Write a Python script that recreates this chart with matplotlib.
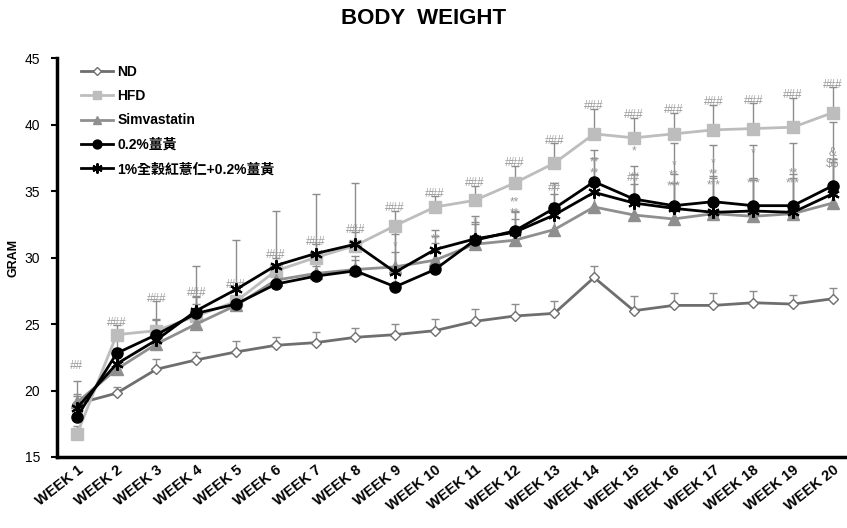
import numpy as np
import matplotlib
matplotlib.use("Agg")
import matplotlib.pyplot as plt

plt.rcParams['font.family'] = ['Liberation Sans', 'Noto Sans CJK TC', 'DejaVu Sans']

semanas = ["WEEK %d" % i for i in range(1, 21)]

grupos = ["ND", "HFD", "Simvastatin", "0.2%薑黃", "1%全穀紅薏仁+0.2%薑黃"]

nd = [19.0, 19.8, 21.6, 22.3, 22.9, 23.4, 23.6, 24.0, 24.2, 24.5,
      25.2, 25.6, 25.8, 28.5, 26.0, 26.4, 26.4, 26.6, 26.5, 26.9]
hfd = [16.7, 24.2, 24.5, 25.6, 26.7, 29.0, 30.0, 30.9, 32.4, 33.8,
       34.3, 35.6, 37.1, 39.3, 39.0, 39.3, 39.6, 39.7, 39.8, 40.9]
simva = [19.1, 21.6, 23.5, 25.0, 26.4, 28.3, 28.8, 29.1, 29.3, 29.8,
         31.0, 31.3, 32.1, 33.8, 33.2, 32.9, 33.3, 33.1, 33.3, 34.1]
curcuma = [18.0, 22.8, 24.2, 25.8, 26.5, 28.0, 28.6, 29.0, 27.8, 29.1,
           31.3, 32.0, 33.7, 35.7, 34.4, 33.9, 34.2, 33.9, 33.9, 35.4]
mistura = [18.7, 22.0, 23.8, 26.0, 27.6, 29.4, 30.3, 31.0, 28.9, 30.6,
           31.4, 31.9, 33.2, 34.9, 34.1, 33.7, 33.4, 33.5, 33.4, 34.8]

# erro padrao (so a parte de cima aparece)
erro_nd = [0.6, 0.5, 0.8, 0.6, 0.8, 0.6, 0.8, 0.7, 0.8, 0.9,
           0.9, 0.9, 0.9, 0.9, 1.1, 0.9, 0.9, 0.9, 0.7, 0.8]
erro_hfd = [0.6, 0.7, 2.2, 1.5, 1.0, 1.0, 1.0, 1.0, 1.1, 0.8,
            1.1, 1.3, 1.5, 1.9, 1.5, 1.6, 1.9, 1.9, 2.2, 1.9]
erro_simva = [1.6, 1.2, 1.3, 1.5, 1.2, 1.2, 1.1, 1.0, 2.8, 1.8,
              1.5, 1.6, 2.0, 2.2, 2.3, 2.7, 2.8, 2.7, 3.0, 3.1]
erro_curcuma = [0.8, 1.1, 1.2, 1.2, 1.0, 1.0, 0.8, 0.8, 4.0, 2.0,
                1.8, 1.5, 1.9, 2.4, 2.5, 4.7, 4.3, 4.6, 4.7, 4.8]
erro_mistura = [1.0, 1.2, 1.5, 3.4, 3.7, 4.1, 4.5, 4.6, 1.5, 1.5,
                1.3, 1.5, 1.6, 2.6, 2.2, 2.6, 2.6, 2.5, 2.6, 2.6]

# marcas de significancia: (semana, y, texto)
marcas = [(0, 21.4, "##")] + [(i, hfd[i] + erro_hfd[i] - 0.25, "###") for i in range(1, 20)]
marcas += [
    (7, 30.4, "*"), (8, 30.4, "*"), (9, 30.9, "**"), (10, 32.2, "*"),
    (11, 32.9, "**\n**"), (12, 34.8, "##"),
    (13, 35.9, "**\n**"),
    (14, 37.5, "*"), (14, 35.5, "##"),
    (15, 34.9, "*\n**\n***"),
    (16, 35.0, "*\n**\n***"),
    (17, 37.4, "*"), (17, 35.1, "***"),
    (18, 35.1, "**\n***"),
    (19, 36.6, "&\n$$"),
]

x = np.arange(len(semanas))

fig = plt.figure(figsize=(8.47, 5.28), dpi=100)
ax = fig.add_axes([0.0673, 0.1345, 0.93, 0.7555])

series = [
    (nd, erro_nd, dict(color='#6e6e6e', marker='D', markersize=5, markerfacecolor='white',
                       markeredgecolor='#6e6e6e', markeredgewidth=1.0)),
    (hfd, erro_hfd, dict(color='#bdbdbd', marker='s', markersize=8)),
    (simva, erro_simva, dict(color='#8f8f8f', marker='^', markersize=8)),
    (curcuma, erro_curcuma, dict(color='black', marker='o', markersize=8)),
    (mistura, erro_mistura, dict(color='black', marker=(6, 2, 0), markersize=9, markeredgewidth=1.5)),
]

for valores, erro, estilo in series:
    ax.errorbar(x, valores, yerr=[np.zeros(len(erro)), erro], fmt='none',
                ecolor='#8c8c8c', elinewidth=1, capsize=3, capthick=1, zorder=1)

for (valores, erro, estilo), nome in zip(series, grupos):
    ax.plot(x, valores, linewidth=2, label=nome, zorder=3, **estilo)

for i, y, texto in marcas:
    ax.text(x[i], y, texto, ha='center', va='bottom', fontsize=8.5, color='#9a9a9a',
            zorder=2, parse_math=False, linespacing=0.85, multialignment='center')

ax.set_ylim(15, 45)
ax.set_xlim(-0.5, 19.3)
ax.set_yticks([15, 20, 25, 30, 35, 40, 45])
ax.tick_params(axis='y', labelsize=10, length=4, width=1.5, direction='out', pad=8)
ax.tick_params(axis='x', length=0, pad=4)
ax.set_xticks(x)
ax.set_xticklabels(semanas, rotation=38, ha='right', rotation_mode='anchor',
                   fontsize=10.5, fontweight='bold')
ax.set_ylabel("GRAM", fontsize=9, fontweight='bold', labelpad=4)

for lado in ['top', 'right']:
    ax.spines[lado].set_visible(False)
for lado in ['left', 'bottom']:
    ax.spines[lado].set_linewidth(2.5)

leg = ax.legend(loc='upper left', bbox_to_anchor=(0.015, 1.015), frameon=False,
                handlelength=2.3, handletextpad=0.3, labelspacing=0.75, markerscale=0.8,
                prop={'weight': 'bold', 'size': 10})

fig.text(0.5, 0.965, "BODY  WEIGHT", ha='center', va='center', fontsize=16, fontweight='bold')

fig.savefig("out.png", dpi=100)
